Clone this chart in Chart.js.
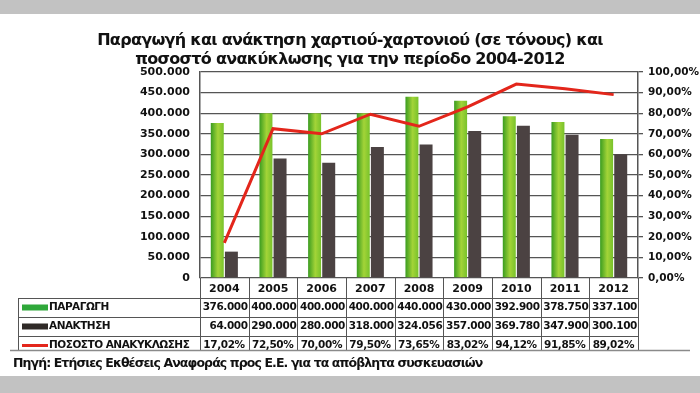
<!DOCTYPE html>
<html>
<head>
<meta charset="utf-8">
<script src="https://cdn.jsdelivr.net/npm/chart.js@4"></script>
<style>
  body { margin: 0; background: #fff; }
  #wrap { position: relative; width: 700px; height: 393px; overflow: hidden; }
  #chart { position: absolute; left: 0; top: 0; }
  .txt { position: absolute; font-family: "DejaVu Sans", sans-serif; font-weight: bold; color: #111; white-space: nowrap; }
  #title { left: 0; width: 700px; top: 30px; text-align: center; font-size: 16px; line-height: 19px; letter-spacing: -0.7px; }
  #source { left: 13px; top: 355px; font-size: 12.5px; line-height: 15px; letter-spacing: -0.9px; }
</style>
</head>
<body>
<div id="wrap">
  <canvas id="chart" width="700" height="393"></canvas>
  <div class="txt" id="title">Παραγωγή και ανάκτηση χαρτιού-χαρτονιού (σε τόνους) και<br>ποσοστό ανακύκλωσης για την περίοδο 2004-2012</div>
  <div class="txt" id="source">Πηγή: Ετήσιες Εκθέσεις Αναφοράς προς Ε.Ε. για τα απόβλητα συσκευασιών</div>
</div>
<script>
const years = ['2004', '2005', '2006', '2007', '2008', '2009', '2010', '2011', '2012'];
const paragogi = [376000, 400000, 400000, 400000, 440000, 430000, 392900, 378750, 337100];
const anaktisi = [64000, 290000, 280000, 318000, 324056, 357000, 369780, 347900, 300100];
const pososto = [17.02, 72.50, 70.00, 79.50, 73.65, 83.02, 94.12, 91.85, 89.02];
const seriesNames = ['ΠΑΡΑΓΩΓΗ', 'ΑΝΑΚΤΗΣΗ', 'ΠΟΣΟΣΤΟ ΑΝΑΚΥΚΛΩΣΗΣ'];

const GRID = '#555';
const FONT = 'bold 10.5px "DejaVu Sans"';
const CAT_PCT = 0.58, BAR_PCT = 0.92;

function fmtNum(v) {
    if (v === 0) return '0';
    return String(Math.round(v)).replace(/\B(?=(\d{3})+(?!\d))/g, '.');
}
function fmtPct(v) {
    return v.toFixed(2).replace('.', ',') + '%';
}

// green bars have a sideways gradient, built from the x scale
function greenFill(context) {
    const chart = context.chart;
    const x = chart.scales.x;
    if (!x || context.dataIndex === undefined) return '#6cbb2a';
    const step = (x.right - x.left) / years.length;
    const barW = step * CAT_PCT / 2 * BAR_PCT;
    const cx = x.getPixelForValue(context.dataIndex) - step * CAT_PCT / 4;
    if (!isFinite(cx) || !isFinite(barW) || barW <= 0) return '#6cbb2a';
    const g = chart.ctx.createLinearGradient(cx - barW / 2, 0, cx + barW / 2, 0);
    g.addColorStop(0, '#3a9c20');
    g.addColorStop(0.55, '#a3d438');
    g.addColorStop(1, '#78c22b');
    return g;
}

const bgBands = {
    id: 'bgBands',
    beforeDraw(chart) {
        const c = chart.ctx;
        c.save();
        c.fillStyle = '#c2c2c2';
        c.fillRect(0, 0, chart.width, 14);
        c.fillRect(0, 376, chart.width, chart.height - 376);
        c.restore();
    }
};

// data table under the x axis
const dataTable = {
    id: 'dataTable',
    afterDraw(chart) {
        const c = chart.ctx;
        const x = chart.scales.x;
        const area = chart.chartArea;
        const step = (x.right - x.left) / years.length;
        const rowTops = [298, 317, 336];
        const rowH = 19;
        const bottom = 350;
        c.save();
        c.strokeStyle = GRID;
        c.lineWidth = 1;
        c.beginPath();
        for (let i = 0; i <= years.length; i++) {
            const px = Math.round(x.left + i * step) + 0.5;
            c.moveTo(px, area.bottom);
            c.lineTo(px, bottom);
        }
        c.moveTo(18.5, rowTops[0]);
        c.lineTo(18.5, bottom);
        rowTops.forEach(t => {
            c.moveTo(18, t + 0.5);
            c.lineTo(x.right, t + 0.5);
        });
        c.stroke();

        c.strokeStyle = '#8a8a8a';
        c.lineWidth = 1.5;
        c.beginPath();
        c.moveTo(10, bottom + 0.5);
        c.lineTo(690, bottom + 0.5);
        c.stroke();

        // legend keys
        const mid = rowTops.map(t => t + rowH / 2);
        c.fillStyle = '#2fa83a';
        c.fillRect(22, mid[0] - 3, 26, 6);
        c.fillStyle = '#2f2a27';
        c.fillRect(22, mid[1] - 3, 26, 6);
        c.fillStyle = '#e3261b';
        c.fillRect(22, mid[2] - 1.5, 26, 3);

        c.fillStyle = '#111';
        c.font = FONT;
        c.letterSpacing = '-0.5px';
        c.textBaseline = 'middle';
        c.textAlign = 'left';
        seriesNames.forEach((n, r) => c.fillText(n, 49, mid[r]));

        c.letterSpacing = '-0.4px';
        c.textAlign = 'right';
        years.forEach((y, i) => {
            const rx = x.left + (i + 1) * step - 1;
            c.fillText(fmtNum(paragogi[i]), rx, mid[0]);
            c.fillText(fmtNum(anaktisi[i]), rx, mid[1]);
            c.fillText(fmtPct(pososto[i]), rx - 3, mid[2]);
        });
        c.restore();
    }
};

new Chart(document.getElementById('chart'), {
    type: 'bar',
    data: {
        labels: years,
        datasets: [
            {
                type: 'line',
                label: seriesNames[2],
                data: pososto,
                yAxisID: 'y1',
                borderColor: '#e3261b',
                borderWidth: 3,
                pointRadius: 0,
                tension: 0,
                order: 0
            },
            {
                label: seriesNames[0],
                data: paragogi,
                yAxisID: 'y',
                backgroundColor: greenFill,
                categoryPercentage: CAT_PCT,
                barPercentage: BAR_PCT,
                order: 1
            },
            {
                label: seriesNames[1],
                data: anaktisi,
                yAxisID: 'y',
                backgroundColor: '#4b4242',
                categoryPercentage: CAT_PCT,
                barPercentage: BAR_PCT,
                order: 1
            }
        ]
    },
    options: {
        responsive: false,
        animation: false,
        layout: { padding: { top: 72, left: 0, right: 0, bottom: 0 } },
        plugins: {
            legend: { display: false },
            title: { display: false },
            tooltip: { enabled: false }
        },
        scales: {
            x: {
                afterFit(scale) { scale.height = 115; },
                grid: { display: false, drawTicks: false },
                border: { display: false },
                ticks: { color: '#111', font: { family: 'DejaVu Sans', weight: 'bold', size: 11 }, padding: 5 }
            },
            y: {
                position: 'left',
                min: 0,
                max: 500000,
                afterFit(scale) { scale.width = 200; },
                grid: { color: GRID, lineWidth: 1.3, drawTicks: false },
                border: { color: GRID, width: 1.5 },
                ticks: {
                    stepSize: 50000,
                    padding: 10,
                    color: '#111',
                    font: { family: 'DejaVu Sans', weight: 'bold', size: 11 },
                    callback: v => fmtNum(v)
                }
            },
            y1: {
                position: 'right',
                min: 0,
                max: 100,
                afterFit(scale) { scale.width = 62; },
                grid: { drawOnChartArea: false, color: GRID, tickLength: 5, lineWidth: 1.3 },
                border: { color: GRID, width: 1.5 },
                ticks: {
                    stepSize: 10,
                    padding: 5,
                    color: '#111',
                    font: { family: 'DejaVu Sans', weight: 'bold', size: 10.5 },
                    callback: v => fmtPct(v)
                }
            }
        }
    },
    plugins: [bgBands, dataTable]
});
</script>
</body>
</html>
